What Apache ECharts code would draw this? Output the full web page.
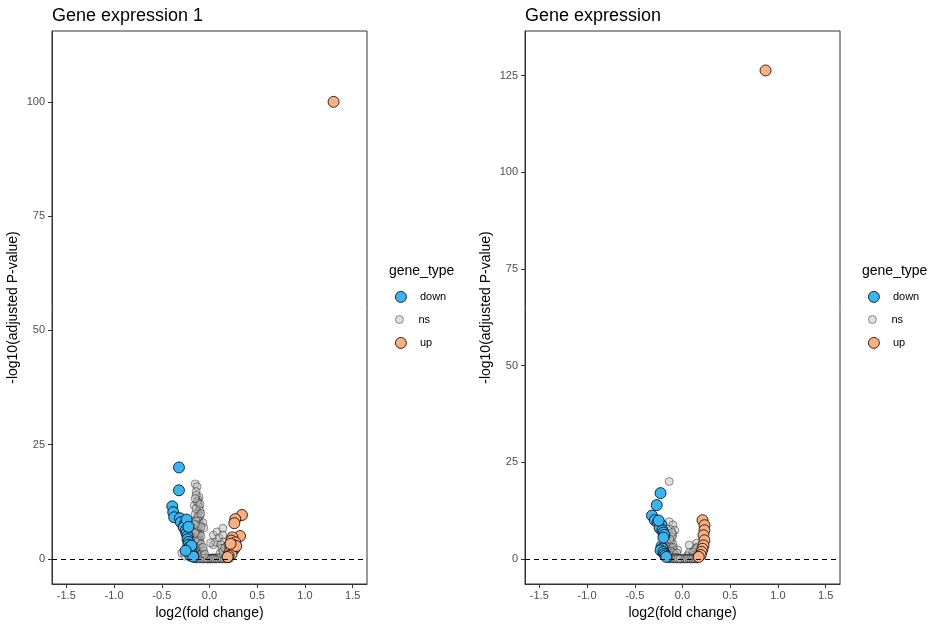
<!DOCTYPE html>
<html>
<head>
<meta charset="utf-8">
<script src="https://cdn.jsdelivr.net/npm/echarts@6/dist/echarts.min.js"></script>
<style>html,body{margin:0;padding:0;background:#fff}#c{width:946px;height:626px}</style>
</head>
<body>
<div id="c"></div>
<script>
// ---- Data ----
const titles = ['Gene expression 1', 'Gene expression'];
const xTicks = [-1.5, -1.0, -0.5, 0.0, 0.5, 1.0, 1.5];
const yTicks1 = [0, 25, 50, 75, 100];
const yTicks2 = [0, 25, 50, 75, 100, 125];

const down1 = [[-0.32,20.0],[-0.32,15.0],[-0.39,11.5],[-0.38,10.2],[-0.37,9.1],[-0.31,8.9],[-0.30,8.0],[-0.26,7.6],[-0.27,6.9],[-0.25,6.2],[-0.24,5.6],[-0.23,5.0],[-0.23,4.3],[-0.22,3.7],[-0.22,3.1],[-0.21,2.6],[-0.20,2.2],[-0.21,1.7],[-0.19,1.3],[-0.18,1.0],[-0.20,0.7],[-0.17,0.5],[-0.24,8.6],[-0.22,7.0],[-0.19,2.9],[-0.25,1.8]];
const up1 = [[1.30,100.0],[0.34,9.6],[0.27,8.7],[0.26,7.8],[0.32,5.0],[0.24,4.7],[0.23,4.0],[0.27,3.6],[0.25,3.0],[0.22,2.6],[0.26,2.2],[0.24,1.8],[0.21,1.4],[0.23,1.0],[0.20,0.7],[0.19,0.4],[0.28,2.8],[0.22,3.3]];
const ns1 = [[-0.15,16.4],[-0.13,15.8],[-0.14,14.7],[-0.11,13.5],[-0.12,12.9],[-0.12,12.2],[-0.11,11.4],[-0.10,10.6],[-0.12,10.0],[-0.10,9.4],[-0.13,8.8],[-0.11,8.2],[-0.10,7.6],[-0.13,7.0],[-0.11,6.5],[-0.12,6.0],[-0.10,5.5],[-0.13,5.0],[-0.11,4.5],[-0.10,4.0],[-0.12,3.5],[-0.14,3.0],[-0.11,2.6],[-0.09,2.2],[-0.13,1.8],[-0.10,1.5],[-0.12,1.1],[-0.08,0.8],[-0.14,0.5],[-0.16,11.7],[-0.15,9.8],[-0.17,8.0],[-0.16,6.5],[-0.16,4.0],[-0.17,2.0],[-0.29,1.3],[-0.26,0.6],[-0.07,7.9],[-0.06,6.8],[0.04,3.1],[0.06,3.7],[0.04,5.2],[0.08,5.9],[0.14,6.7],[0.10,4.6],[0.14,5.2],[0.15,3.7],[0.12,3.1],[0.17,2.6],[0.01,3.5],
  [-0.14,13.9],[-0.13,12.5],[-0.14,11.0],[-0.12,9.1],[-0.14,8.3],[-0.12,7.3],[-0.14,6.2],[-0.12,5.3],[-0.14,4.3],[-0.12,3.9],[-0.13,2.4],[-0.15,1.5],[-0.11,0.9],[-0.13,0.3],[-0.10,12.0],[-0.09,9.9],[-0.09,7.0],[-0.09,5.0],[-0.09,3.2],[-0.15,13.2],[-0.15,7.5],[-0.15,5.6],[-0.16,2.7],[-0.16,1.0],
  [-0.14,0.1],[-0.12,0.2],[-0.10,0.05],[-0.08,0.15],[-0.06,0.02],[-0.04,0.1],[-0.02,0.0],[0.00,0.05],[0.02,0.0],[0.04,0.1],[0.06,0.02],[0.08,0.08],[0.10,0.0],[0.12,0.12],[0.14,0.03],[0.16,0.2],[0.18,0.05],[0.20,0.15],[-0.05,0.3],[0.03,0.25],[0.09,0.35],[-0.11,0.4],[0.13,0.5],[-0.07,0.6],[0.17,0.6],[0.01,0.0],[-0.01,0.02],[0.05,0.0],[0.07,0.01],[-0.03,0.0],
  [-0.15,0.05],[-0.13,0.0],[-0.11,0.1],[-0.09,0.0],[-0.07,0.08],[-0.05,0.0],[-0.03,0.12],[-0.01,0.06],[0.01,0.1],[0.03,0.0],[0.05,0.15],[0.07,0.05],[0.09,0.1],[0.11,0.03],[0.13,0.0],[0.15,0.1],[0.17,0.0],[0.19,0.1],[0.21,0.05],[-0.17,0.15],[-0.09,0.3],[0.11,0.3],[-0.02,0.2],[0.06,0.2],
  [-0.145,0.0],[-0.125,0.1],[-0.105,0.0],[-0.085,0.05],[-0.065,0.0],[-0.045,0.05],[-0.025,0.1],[0.015,0.05],[0.035,0.1],[0.055,0.05],[0.075,0.0],[0.095,0.05],[0.115,0.1],[0.135,0.05],[0.155,0.0],[0.175,0.1],[0.195,0.0],[-0.16,0.3],[0.18,0.3],[0.2,0.4],
  [-0.08,1.2],[-0.06,1.8],[-0.07,2.5],[0.15,1.0],[0.17,1.5],[0.18,2.0],[0.11,1.2],[0.19,3.0],[0.13,2.3],[-0.05,1.0],[0.14,1.6],[0.16,2.4]];

const down2 = [[-0.23,17.0],[-0.27,13.9],[-0.32,11.2],[-0.29,10.0],[-0.26,9.4],[-0.22,8.8],[-0.24,8.0],[-0.21,7.4],[-0.20,6.8],[-0.19,6.2],[-0.22,3.2],[-0.21,2.7],[-0.23,2.2],[-0.20,1.8],[-0.19,1.3],[-0.18,0.9],[-0.17,0.5],[-0.25,9.9],[-0.20,5.5]];
const up2 = [[0.87,126.3],[0.21,10.0],[0.23,8.7],[0.23,7.4],[0.22,6.1],[0.23,4.8],[0.22,3.5],[0.21,2.6],[0.20,1.8],[0.19,1.0],[0.17,0.5]];
const ns2 = [[-0.14,20.0],[-0.14,9.6],[-0.10,8.8],[-0.12,7.5],[-0.08,7.4],[-0.10,6.2],[-0.11,5.6],[-0.12,4.4],[-0.10,3.8],[-0.13,3.2],[-0.11,2.7],[-0.09,2.2],[-0.14,1.8],[-0.12,1.3],[-0.08,1.0],[-0.15,0.7],[-0.16,2.5],[-0.17,4.8],[-0.05,2.3],[0.15,4.1],[0.16,3.1],[0.13,2.3],[0.18,1.8],[0.07,1.6],[0.09,0.5],[0.07,3.6],[0.12,1.2],[0.05,0.8],
  [-0.11,6.8],[-0.13,5.1],[-0.10,3.0],[-0.12,2.0],[-0.10,1.6],[-0.14,1.0],[-0.06,1.5],[0.14,2.7],[0.11,1.8],[0.16,1.2],
  [-0.14,0.1],[-0.12,0.2],[-0.10,0.05],[-0.08,0.15],[-0.06,0.02],[-0.04,0.1],[-0.02,0.0],[0.00,0.05],[0.02,0.0],[0.04,0.1],[0.06,0.02],[0.08,0.08],[0.10,0.0],[0.12,0.12],[0.14,0.03],[0.16,0.2],[-0.05,0.3],[0.03,0.25],[0.01,0.0],[-0.01,0.02],[-0.03,0.0],[0.05,0.0],
  [-0.13,0.0],[-0.11,0.12],[-0.09,0.0],[-0.07,0.1],[-0.05,0.05],[-0.03,0.15],[0.03,0.08],[0.07,0.12],[0.09,0.0],[0.11,0.06],[0.13,0.1],[0.15,0.0],[-0.08,0.35],[0.10,0.3],
  [-0.125,0.05],[-0.105,0.0],[-0.085,0.1],[-0.065,0.0],[-0.045,0.05],[-0.025,0.0],[0.025,0.05],[0.045,0.0],[0.065,0.1],[0.085,0.0],[0.105,0.05],[0.125,0.0],[0.145,0.08],[-0.145,0.3],[0.155,0.4]];

// ---- Styling ----
const FONT = 'Liberation Sans, Arial, sans-serif';
const COL_DOWN = '#3AB5F3', COL_UP = '#FBAF7E', COL_NS = '#bebebe';

function xAxis(gi) {
  return {
    type: 'value', gridIndex: gi, min: -1.65, max: 1.65,
    name: 'log2(fold change)', nameLocation: 'middle', nameGap: 21,
    nameTextStyle: {fontFamily: FONT, fontSize: 14, color: '#000'},
    axisLine: {show: true, onZero: false, lineStyle: {color: '#333', width: 1}},
    axisTick: {show: true, length: 4, lineStyle: {color: '#333'}, customValues: xTicks},
    axisLabel: {fontFamily: FONT, fontSize: 11, color: '#4d4d4d', margin: 6, customValues: xTicks,
      formatter: v => v.toFixed(1)},
    splitLine: {show: false}
  };
}
function yAxis(gi, min, max, ticks) {
  return {
    type: 'value', gridIndex: gi, min: min, max: max,
    name: '-log10(adjusted P-value)', nameLocation: 'middle', nameGap: 32, nameRotate: 90,
    nameTextStyle: {fontFamily: FONT, fontSize: 14, color: '#000'},
    axisLine: {show: true, onZero: false, lineStyle: {color: '#333', width: 1}},
    axisTick: {show: true, length: 4, lineStyle: {color: '#333'}, customValues: ticks},
    axisLabel: {fontFamily: FONT, fontSize: 11, color: '#4d4d4d', margin: 7, customValues: ticks},
    splitLine: {show: false}
  };
}
function scatter(name, data, gi, color, size, opacity, withLine) {
  const s = {
    name: name, type: 'scatter', xAxisIndex: gi, yAxisIndex: gi, data: data,
    symbol: 'circle', symbolSize: size,
    itemStyle: {color: color, borderColor: '#000', borderWidth: 0.8, opacity: opacity},
    emphasis: {disabled: true}, animation: false
  };
  if (withLine) {
    s.markLine = {silent: true, symbol: 'none', label: {show: false},
      lineStyle: {color: '#000', type: [5, 4], width: 1.1}, data: [{yAxis: 0}], animation: false};
  }
  return s;
}
function legend(left, top, name, h, color, opacity) {
  return {
    left: left, top: top, orient: 'vertical', data: [name], icon: 'circle',
    itemWidth: 28, itemHeight: h,
    textStyle: {fontFamily: FONT, fontSize: 11, color: '#000'},
    itemStyle: {color: color, borderColor: '#000', borderWidth: 0.8, opacity: opacity}
  };
}

const chart = echarts.init(document.getElementById('c'), null, {renderer: 'canvas'});
chart.setOption({
  backgroundColor: '#fff',
  animation: false,
  title: [
    {text: titles[0], left: 47, top: 2, textStyle: {fontFamily: FONT, fontSize: 18, fontWeight: 'normal', color: '#000'}},
    {text: titles[1], left: 520, top: 2, textStyle: {fontFamily: FONT, fontSize: 18, fontWeight: 'normal', color: '#000'}},
    {text: 'gene_type', left: 384, top: 259, textStyle: {fontFamily: FONT, fontSize: 14, fontWeight: 'normal', color: '#000'}},
    {text: 'gene_type', left: 857, top: 259, textStyle: {fontFamily: FONT, fontSize: 14, fontWeight: 'normal', color: '#000'}}
  ],
  grid: [
    {left: 52, top: 31, width: 315, height: 553, show: true, borderColor: '#333', borderWidth: 1, backgroundColor: 'transparent'},
    {left: 525, top: 31, width: 315, height: 553, show: true, borderColor: '#333', borderWidth: 1, backgroundColor: 'transparent'}
  ],
  xAxis: [xAxis(0), xAxis(1)],
  yAxis: [yAxis(0, -5.5, 115.5, yTicks1), yAxis(1, -6.5, 136.5, yTicks2)],
  legend: [
    legend(390, 286, 'down', 11, COL_DOWN, 1),
    legend(390, 309, 'ns', 8, COL_NS, 0.5),
    legend(390, 332, 'up', 11, COL_UP, 1),
    legend(863, 286, 'down', 11, COL_DOWN, 1),
    legend(863, 309, 'ns', 8, COL_NS, 0.5),
    legend(863, 332, 'up', 11, COL_UP, 1)
  ],
  series: [
    scatter('ns', ns1, 0, COL_NS, 8, 0.5, true),
    scatter('down', down1, 0, COL_DOWN, 11, 1, false),
    scatter('up', up1, 0, COL_UP, 11, 1, false),
    scatter('ns', ns2, 1, COL_NS, 8, 0.5, true),
    scatter('down', down2, 1, COL_DOWN, 11, 1, false),
    scatter('up', up2, 1, COL_UP, 11, 1, false)
  ]
});
</script>
</body>
</html>
